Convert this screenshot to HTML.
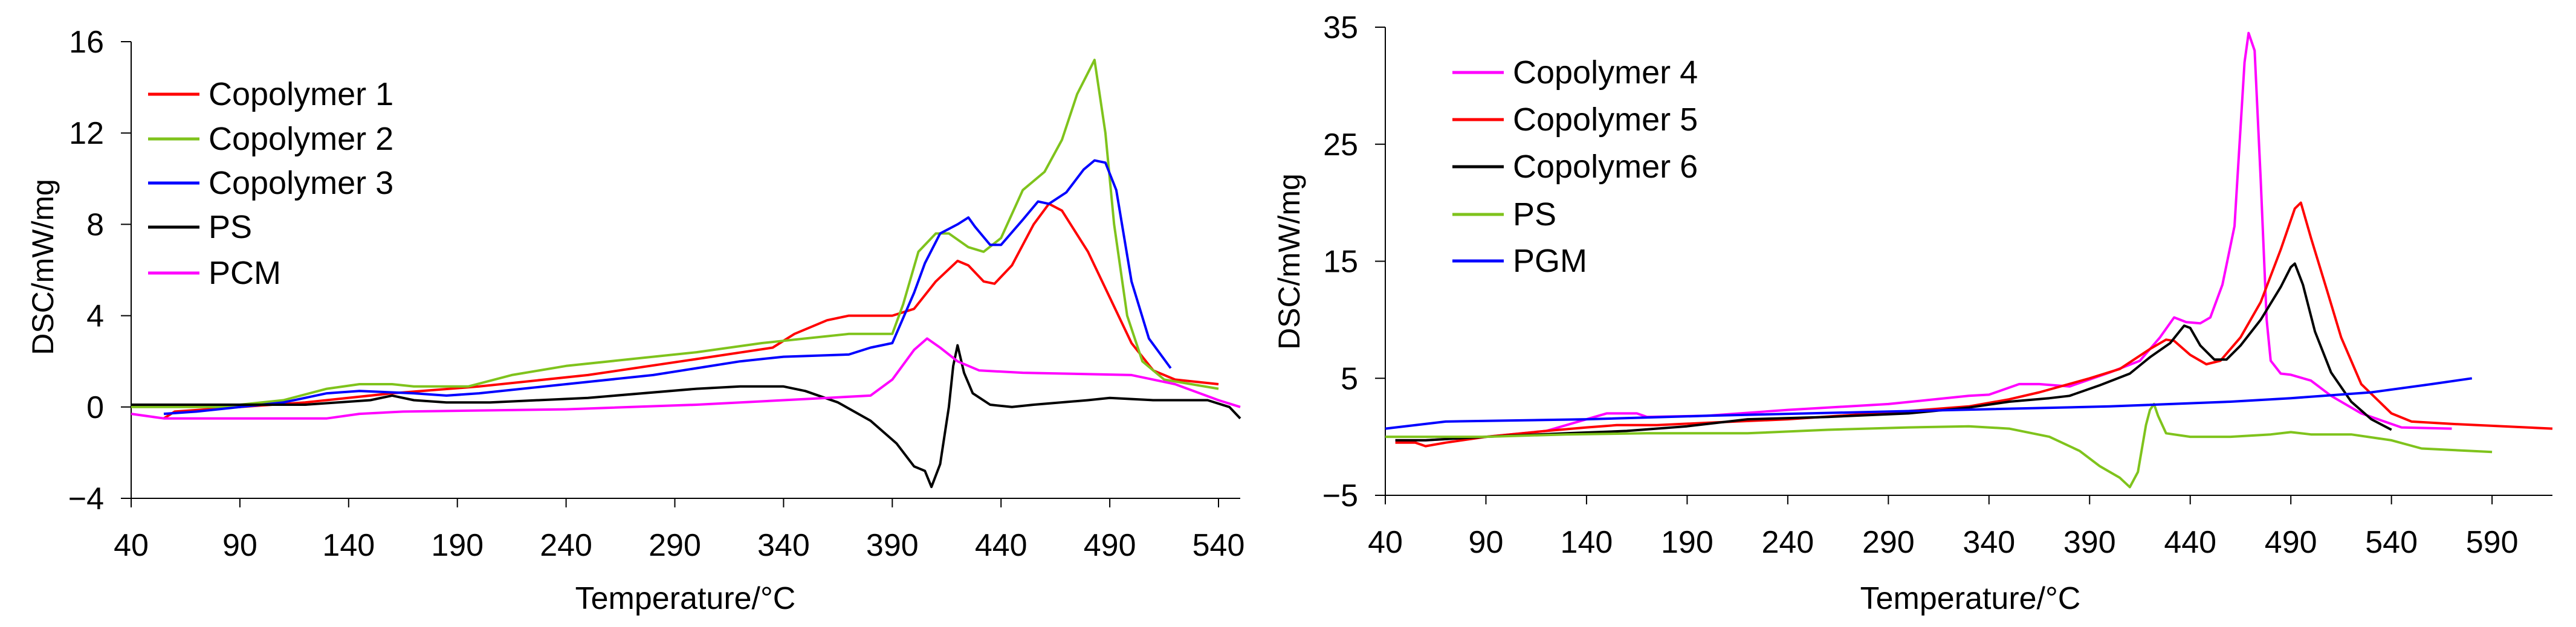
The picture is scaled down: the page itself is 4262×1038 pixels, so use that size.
<!DOCTYPE html>
<html><head><meta charset="utf-8"><style>
html,body{margin:0;padding:0;background:#fff;}
svg{display:block;font-family:"Liberation Sans",Arial,sans-serif;}
</style></head><body>
<svg id="chart" width="4262" height="1038" viewBox="0 0 4262 1038" xmlns="http://www.w3.org/2000/svg"></svg>
<script>
// ---- Left chart data ----
const leftXTicks = [40,90,140,190,240,290,340,390,440,490,540];
const leftYTicks = [16,12,8,4,0,-4];
const leftNames = ["Copolymer 1","Copolymer 2","Copolymer 3","PS","PCM"];
const leftColors = ["#ff0000","#7fc31c","#0000ff","#000000","#ff00ff"];
const cop1 = [[55,-0.5],[60,-0.2],[90,0],[120,0.2],[160,0.6],[200,0.9],[250,1.4],[300,2.1],[335,2.6],[345,3.2],[360,3.8],[370,4.0],[390,4.0],[400,4.3],[410,5.5],[420,6.4],[425,6.2],[432,5.5],[437,5.4],[445,6.2],[455,8.0],[462,8.9],[468,8.6],[480,6.8],[490,4.8],[500,2.8],[510,1.6],[520,1.2],[540,1.0]];
const cop2 = [[40,0],[80,0],[110,0.3],[130,0.8],[145,1.0],[160,1.0],[170,0.9],[195,0.9],[215,1.4],[240,1.8],[270,2.1],[300,2.4],[330,2.8],[350,3.0],[370,3.2],[390,3.2],[395,4.5],[402,6.8],[410,7.6],[416,7.6],[425,7.0],[432,6.8],[440,7.4],[450,9.5],[460,10.3],[468,11.7],[475,13.7],[483,15.2],[488,12],[492,8],[498,4],[505,2.0],[515,1.2],[540,0.8]];
const cop3 = [[55,-0.3],[70,-0.2],[90,0],[110,0.2],[130,0.6],[145,0.7],[170,0.6],[185,0.5],[200,0.6],[240,1.0],[280,1.4],[320,2.0],[340,2.2],[370,2.3],[380,2.6],[390,2.8],[400,5.0],[405,6.3],[412,7.6],[420,8.0],[425,8.3],[428,7.9],[435,7.1],[440,7.1],[450,8.2],[457,9.0],[462,8.9],[470,9.4],[478,10.4],[483,10.8],[488,10.7],[493,9.5],[500,5.5],[508,3.0],[518,1.7]];
const psLeft = [[40,0.1],[80,0.1],[120,0.1],[150,0.3],[160,0.5],[170,0.3],[185,0.2],[205,0.2],[250,0.4],[300,0.8],[320,0.9],[340,0.9],[350,0.7],[365,0.2],[380,-0.6],[392,-1.6],[400,-2.6],[405,-2.8],[408,-3.5],[412,-2.5],[416,0],[418,1.8],[420,2.7],[423,1.5],[427,0.6],[435,0.1],[445,0.0],[455,0.1],[480,0.3],[490,0.4],[510,0.3],[535,0.3],[545,0],[550,-0.5]];
const pcm = [[40,-0.3],[55,-0.5],[100,-0.5],[130,-0.5],[145,-0.3],[165,-0.2],[240,-0.1],[300,0.1],[340,0.3],[360,0.4],[380,0.5],[390,1.2],[400,2.5],[406,3.0],[412,2.6],[420,2.0],[430,1.6],[450,1.5],[500,1.4],[520,1.0],[540,0.3],[550,0]];
// ---- Right chart data ----
const rightXTicks = [40,90,140,190,240,290,340,390,440,490,540,590];
const rightYTicks = [35,25,15,5,-5];
const rightNames = ["Copolymer 4","Copolymer 5","Copolymer 6","PS","PGM"];
const rightColors = ["#ff00ff","#ff0000","#000000","#7fc31c","#0000ff"];
const cop4 = [[45,-0.3],[60,-0.3],[90,0],[120,0.5],[140,1.5],[150,2.0],[165,2.0],[170,1.7],[200,1.8],[240,2.3],[290,2.8],[330,3.5],[340,3.6],[355,4.5],[365,4.5],[380,4.3],[400,5.5],[415,6.5],[425,8.5],[432,10.2],[438,9.8],[445,9.7],[450,10.2],[456,13],[462,18],[467,32],[469,34.5],[472,33],[475,22],[478,10],[480,6.5],[485,5.4],[490,5.3],[500,4.8],[510,3.5],[525,2.0],[545,0.8],[570,0.7]];
const cop5 = [[45,-0.5],[55,-0.5],[60,-0.8],[70,-0.5],[90,0],[120,0.5],[140,0.8],[155,1.0],[175,1.0],[200,1.2],[240,1.5],[300,2.2],[330,2.6],[350,3.2],[365,3.8],[390,5.0],[405,5.8],[420,7.5],[428,8.3],[432,8.2],[440,7.0],[448,6.2],[455,6.5],[465,8.5],[475,11.5],[485,16],[492,19.5],[495,20],[500,17],[508,12.5],[515,8.5],[525,4.5],[540,2.0],[550,1.3],[570,1.1],[620,0.7]];
const cop6 = [[45,-0.3],[60,-0.3],[90,0],[130,0.3],[160,0.5],[190,0.9],[220,1.5],[260,1.7],[300,2.0],[330,2.5],[350,3.0],[370,3.3],[380,3.5],[395,4.4],[410,5.4],[420,6.8],[430,8.0],[437,9.5],[440,9.3],[445,7.8],[452,6.6],[458,6.6],[465,7.8],[475,10.0],[485,12.8],[490,14.5],[492,14.8],[496,13],[502,9],[510,5.5],[520,3.0],[530,1.5],[540,0.6]];
const psRight = [[40,0],[90,0],[130,0.2],[170,0.3],[220,0.3],[260,0.6],[300,0.8],[330,0.9],[350,0.7],[370,0],[385,-1.2],[395,-2.5],[405,-3.5],[410,-4.3],[414,-3],[418,1.0],[420,2.3],[422,2.8],[424,1.8],[428,0.3],[440,0],[460,0],[480,0.2],[490,0.4],[500,0.2],[520,0.2],[540,-0.3],[555,-1.0],[590,-1.3]];
const pgm = [[40,0.7],[70,1.3],[140,1.5],[200,1.8],[300,2.2],[400,2.6],[460,3.0],[490,3.3],[530,3.8],[560,4.5],[580,5.0]];

const NS = "http://www.w3.org/2000/svg";
const svg = document.getElementById('chart');
function mk(tag, attrs, parent){const e=document.createElementNS(NS,tag);for(const k in attrs)e.setAttribute(k,attrs[k]);(parent||svg).appendChild(e);return e;}

function drawChart(cfg){
  const g = mk('g',{});
  
  
  const sx = v => cfg.x0 + (v - cfg.xmin)/(cfg.xmax - cfg.xmin)*(cfg.x1 - cfg.x0);
  const sy = v => cfg.y0 + (cfg.ymax - v)/(cfg.ymax - cfg.ymin)*(cfg.y1 - cfg.y0);
  const yax = mk('line',{x1:cfg.x0,y1:cfg.y0,x2:cfg.x0,y2:cfg.y1+15,stroke:'#000','stroke-width':2},g);
  
  
  const xax = mk('line',{x1:cfg.x0,y1:cfg.y1,x2:cfg.x1,y2:cfg.y1,stroke:'#000','stroke-width':2},g);
  
  
  cfg.yTicks.forEach(t=>{
    mk('line',{x1:cfg.x0-17,y1:sy(t),x2:cfg.x0,y2:sy(t),stroke:'#000','stroke-width':2},g);
    const tx = mk('text',{x:cfg.x0-45,y:sy(t)+18,'text-anchor':'end','font-size':52},g);
    tx.textContent = t<0 ? '\u2212'+Math.abs(t) : String(t);
    
    
  });
  cfg.xTicks.forEach(t=>{
    mk('line',{x1:sx(t),y1:cfg.y1,x2:sx(t),y2:cfg.y1+15,stroke:'#000','stroke-width':2},g);
    const tx = mk('text',{x:sx(t),y:cfg.y1+95,'text-anchor':'middle','font-size':52},g);
    tx.textContent = String(t);
    
    
  });
  cfg.series.forEach((s,i)=>{
    const p = mk('polyline',{points:s.map(d=>sx(d[0]).toFixed(1)+','+sy(d[1]).toFixed(1)).join(' '),fill:'none',stroke:cfg.colors[i],'stroke-width':4,'stroke-linejoin':'round'},g);
    
    
    const ly = cfg.legY[i];
    const ll = mk('line',{x1:cfg.legX,y1:ly,x2:cfg.legX+85,y2:ly,stroke:cfg.colors[i],'stroke-width':5},g);
    
    
    const lt = mk('text',{x:cfg.legX+100,y:ly+18,'font-size':54},g);
    lt.textContent = cfg.names[i];
    
    
  });
  const yt = mk('text',{x:cfg.ytX,y:cfg.ytY,'text-anchor':'middle','font-size':50,transform:'rotate(-90 '+cfg.ytX+' '+cfg.ytY+')'},g);
  yt.textContent = 'DSC/mW/mg';
  
  
  const xt = mk('text',{x:cfg.xtX,y:1008,'text-anchor':'middle','font-size':52},g);
  xt.textContent = 'Temperature/\u00B0C';
  
  
}

drawChart({name:'left-chart',x0:217,x1:2052,xmin:40,xmax:550,y0:69,y1:825,ymin:-4,ymax:16,
  xTicks:leftXTicks,yTicks:leftYTicks,series:[cop1,cop2,cop3,psLeft,pcm],names:leftNames,colors:leftColors,
  legX:245,legY:[156,230,303,376,452],ytX:88,ytY:442,xtX:1134});
drawChart({name:'right-chart',x0:2292,x1:4223,xmin:40,xmax:620,y0:45,y1:820,ymin:-5,ymax:35,
  xTicks:rightXTicks,yTicks:rightYTicks,series:[cop4,cop5,cop6,psRight,pgm],names:rightNames,colors:rightColors,
  legX:2403,legY:[120,198,276,355,432],ytX:2150,ytY:433,xtX:3260});
</script>
</body></html>
